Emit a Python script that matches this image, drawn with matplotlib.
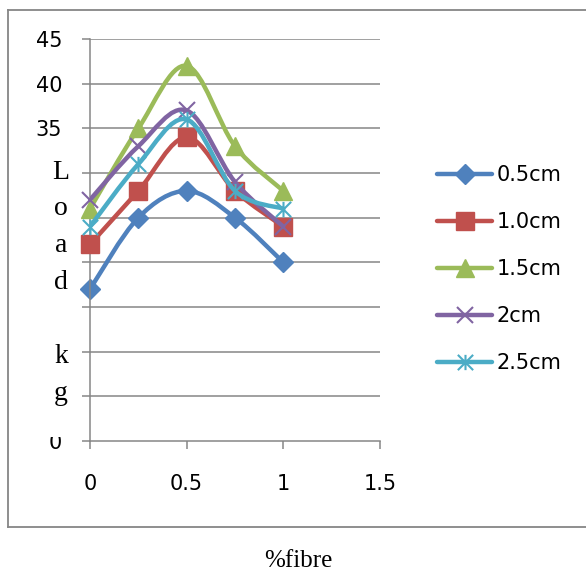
import matplotlib
matplotlib.use("Agg")
import matplotlib.pyplot as plt
from matplotlib.path import Path
from matplotlib.patches import PathPatch, Rectangle
from matplotlib.lines import Line2D

# ---- data ----
fibre = [0, 0.25, 0.5, 0.75, 1.0]
labels = ["0.5cm", "1.0cm", "1.5cm", "2cm", "2.5cm"]
load_05 = [17, 25, 28, 25, 20]
load_10 = [22, 28, 34, 28, 24]
load_15 = [26, 35, 42, 33, 28]
load_20 = [27, 33, 37, 29, 24]
load_25 = [24, 31, 36, 28, 26]
series = [load_05, load_10, load_15, load_20, load_25]
x_ticks = [0, 0.5, 1, 1.5]
x_tick_labels = ["0", "0.5", "1", "1.5"]
y_ticks = [0, 5, 10, 15, 20, 25, 30, 35, 40, 45]
# labels 5..30 are hidden behind the "Load kg" title box in the original
y_tick_labels = ["0", "", "", "", "", "", "", "35", "40", "45"]

colors = ["#4F81BD", "#C0504D", "#9BBB59", "#8064A2", "#4BACC6"]
star = Path([(0, -1), (0, 1), (-1, -1), (1, 1), (-1, 1), (1, -1)],
            [Path.MOVETO, Path.LINETO, Path.MOVETO, Path.LINETO, Path.MOVETO, Path.LINETO])
marker_specs = [
    dict(marker="D", ms=10, mfc=colors[0], mec=colors[0], mew=1),
    dict(marker="s", ms=12.5, mfc=colors[1], mec=colors[1], mew=1),
    dict(marker="^", ms=13, mfc=colors[2], mec=colors[2], mew=1),
    dict(marker="x", ms=11, mfc="none", mec=colors[3], mew=1.5),
    dict(marker=star, ms=11, mfc="none", mec=colors[4], mew=1.5),
]

def smooth_path(xs, ys):
    pts = list(zip(xs, ys))
    n = len(pts)
    verts = [pts[0]]
    codes = [Path.MOVETO]
    for i in range(n - 1):
        p0 = pts[i - 1] if i > 0 else pts[i]
        p1 = pts[i]
        p2 = pts[i + 1]
        p3 = pts[i + 2] if i + 2 < n else pts[i + 1]
        c1 = (p1[0] + (p2[0] - p0[0]) / 6, p1[1] + (p2[1] - p0[1]) / 6)
        c2 = (p2[0] - (p3[0] - p1[0]) / 6, p2[1] - (p3[1] - p1[1]) / 6)
        verts += [c1, c2, p2]
        codes += [Path.CURVE4] * 3
    return Path(verts, codes)

W, H = 586, 572
fig = plt.figure(figsize=(W / 100, H / 100), dpi=100)
ax = fig.add_axes([90 / W, 1 - 441 / H, 290 / W, 402 / H])

grid_c = "#868686"
for yv in y_ticks[1:]:
    ax.axhline(yv, color=grid_c, lw=1.1, zorder=0.5)

handles = []
for k, (vals, c, spec) in enumerate(zip(series, colors, marker_specs)):
    patch = PathPatch(smooth_path(fibre, vals), facecolor="none", edgecolor=c,
                      lw=3.2, capstyle="round", joinstyle="round", zorder=2 + k)
    ax.add_patch(patch)
    ax.plot(fibre, vals, linestyle="none", zorder=2.5 + k, clip_on=False, **spec)
    handles.append(Line2D([0], [0], color=c, lw=3.2, solid_capstyle="round", **spec))

ax.set_xlim(0, 1.5)
ax.set_ylim(0, 45)
ax.set_xticks(x_ticks)
ax.set_xticklabels(x_tick_labels)
ax.set_yticks(y_ticks)
ax.set_yticklabels(y_tick_labels)
for s in ["top", "right"]:
    ax.spines[s].set_visible(False)
for s in ["left", "bottom"]:
    ax.spines[s].set_color(grid_c)
    ax.spines[s].set_linewidth(1.1)
ax.tick_params(axis="both", direction="out", length=6, width=1.1, color=grid_c,
               labelsize=15, labelcolor="black")
ax.tick_params(axis="x", pad=18)
ax.tick_params(axis="y", pad=14)
ax.set_facecolor("none")

leg = fig.legend(handles=handles, labels=labels, loc="upper left",
                 bbox_to_anchor=(437 / W, 1 - 165 / H), frameon=False,
                 fontsize=15, handlelength=2.65, handletextpad=0.2,
                 labelspacing=1.3, borderaxespad=0, borderpad=0)

# white box covering part of the y tick labels, with the vertical letters
fig.add_artist(Rectangle((30 / W, 1 - 437 / H), 48 / W, (437 - 148) / H,
                         transform=fig.transFigure, facecolor="white",
                         edgecolor="none", zorder=5))
letters = ["L", "o", "a", "d", "", "k", "g"]
baselines = [179, 215, 252, 289, 326, 363, 400]
for ch, b in zip(letters, baselines):
    if ch:
        fig.text(61 / W, 1 - b / H, ch, ha="center", va="baseline",
                 family="Liberation Serif", fontsize=20, zorder=6)

fig.text(298 / W, 1 - 567 / H, "%fibre", ha="center", va="baseline",
         family="Liberation Serif", fontsize=18)

# chart border
bc = "#868686"
fig.add_artist(Line2D([8 / W, 1.0], [1 - 10 / H, 1 - 10 / H], color=bc, lw=1.3,
                      transform=fig.transFigure))
fig.add_artist(Line2D([8 / W, 1.0], [1 - 527 / H, 1 - 527 / H], color=bc, lw=1.3,
                      transform=fig.transFigure))
fig.add_artist(Line2D([8 / W, 8 / W], [1 - 10 / H, 1 - 527 / H], color=bc, lw=1.3,
                      transform=fig.transFigure))

fig.savefig("out.png", dpi=100)
